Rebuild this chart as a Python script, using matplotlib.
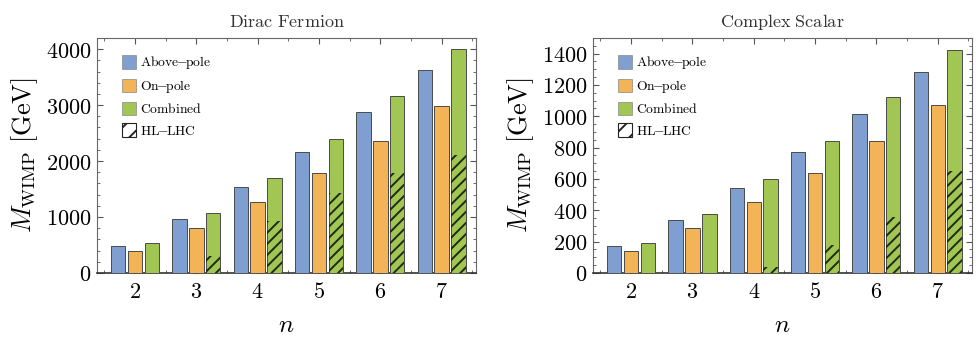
import numpy as np
import matplotlib
matplotlib.use('Agg')
import matplotlib.pyplot as plt
from matplotlib.patches import Patch
from matplotlib.ticker import MultipleLocator, FuncFormatter

plt.rcParams['mathtext.fontset'] = 'cm'
plt.rcParams['font.family'] = 'serif'
plt.rcParams['font.serif'] = ['DejaVu Serif']
plt.rcParams['hatch.linewidth'] = 1.4

# Data
n_vals = [2, 3, 4, 5, 6, 7]

dirac_above = [480, 970, 1540, 2170, 2870, 3630]
dirac_on = [400, 800, 1260, 1790, 2360, 2990]
dirac_comb = [530, 1070, 1700, 2390, 3170, 4000]
dirac_hl = [0, 300, 930, 1430, 1790, 2100]

scalar_above = [170, 340, 540, 770, 1015, 1285]
scalar_on = [140, 285, 450, 640, 845, 1070]
scalar_comb = [190, 375, 600, 845, 1120, 1420]
scalar_hl = [0, 0, 40, 180, 360, 650]

# Styles
c_above = '#7e9fd0'
c_on = '#f2b456'
c_comb = '#a2c653'
edge = '#4a4a4a'

fig, axes = plt.subplots(1, 2, figsize=(9.76, 3.39), dpi=100)
fig.subplots_adjust(left=0.0994, right=0.996, top=0.888, bottom=0.195, wspace=0.309)

panels = [
    (axes[0], 'Dirac Fermion', dirac_above, dirac_on, dirac_comb, dirac_hl, 4200, 1000, 200),
    (axes[1], 'Complex Scalar', scalar_above, scalar_on, scalar_comb, scalar_hl, 1500, 200, 50),
]

w = 0.235
off = 0.275
x = np.array(n_vals, dtype=float)

def tex_int(v, pos):
    return r'$%d$' % int(round(v))

for ax, title, above, on, comb, hl, ymax, major, minor in panels:
    ax.bar(x - off, above, w, color=c_above, edgecolor=edge, linewidth=0.7, zorder=3)
    ax.bar(x, on, w, color=c_on, edgecolor=edge, linewidth=0.7, zorder=3)
    ax.bar(x + off, comb, w, color=c_comb, edgecolor=edge, linewidth=0.7, zorder=3)
    hl_arr = np.array(hl, dtype=float)
    mask = hl_arr > 0
    ax.bar((x + off)[mask], hl_arr[mask], w, color='none', edgecolor='#1e2a12',
           hatch='///', linewidth=0.0, zorder=4)

    ax.set_xlim(1.38, 7.56)
    ax.set_ylim(0, ymax)
    ax.set_xticks(n_vals)
    ax.xaxis.set_major_formatter(FuncFormatter(tex_int))
    ax.xaxis.set_minor_locator(MultipleLocator(0.5))
    ax.yaxis.set_major_locator(MultipleLocator(major))
    ax.yaxis.set_minor_locator(MultipleLocator(minor))
    ax.yaxis.set_major_formatter(FuncFormatter(tex_int))
    ax.tick_params(which='both', direction='in', top=True, right=True,
                   labelsize=16, color='#555555')
    ax.tick_params(which='major', length=4, width=0.8)
    ax.tick_params(which='minor', length=2, width=0.6)
    ax.tick_params(axis='x', pad=6)
    ax.tick_params(axis='y', pad=4)
    for s in ax.spines.values():
        s.set_color('#666666')
        s.set_linewidth(0.8)
    ax.spines['bottom'].set_color('#333333')
    ax.spines['bottom'].set_linewidth(1.2)

    ax.set_title(r'$\mathrm{%s}$' % title.replace(' ', r'\ '), fontsize=13, pad=8,
                 color='#333333')
    ax.set_xlabel(r'$n$', fontsize=18, labelpad=8)
    ax.set_ylabel(r'$M_{\rm WIMP}\ [\mathrm{GeV}]$', fontsize=19, labelpad=4)

    handles = [
        Patch(facecolor=c_above, edgecolor='#888888', linewidth=0.5),
        Patch(facecolor=c_on, edgecolor='#888888', linewidth=0.5),
        Patch(facecolor=c_comb, edgecolor='#888888', linewidth=0.5),
        Patch(facecolor='none', edgecolor='#222222', hatch='//', linewidth=0.8),
    ]
    labels = [r'$\mathrm{Above\!\!-\!\!pole}$', r'$\mathrm{On\!\!-\!\!pole}$',
              r'$\mathrm{Combined}$', r'$\mathrm{HL\!\!-\!\!LHC}$']
    ax.legend(handles, labels, loc='upper left', bbox_to_anchor=(0.045, 0.965),
              frameon=False, fontsize=9.8, handlelength=1.0, handleheight=1.15,
              handletextpad=0.3, labelspacing=0.5, borderaxespad=0.2)

plt.savefig('out.png', dpi=100)
